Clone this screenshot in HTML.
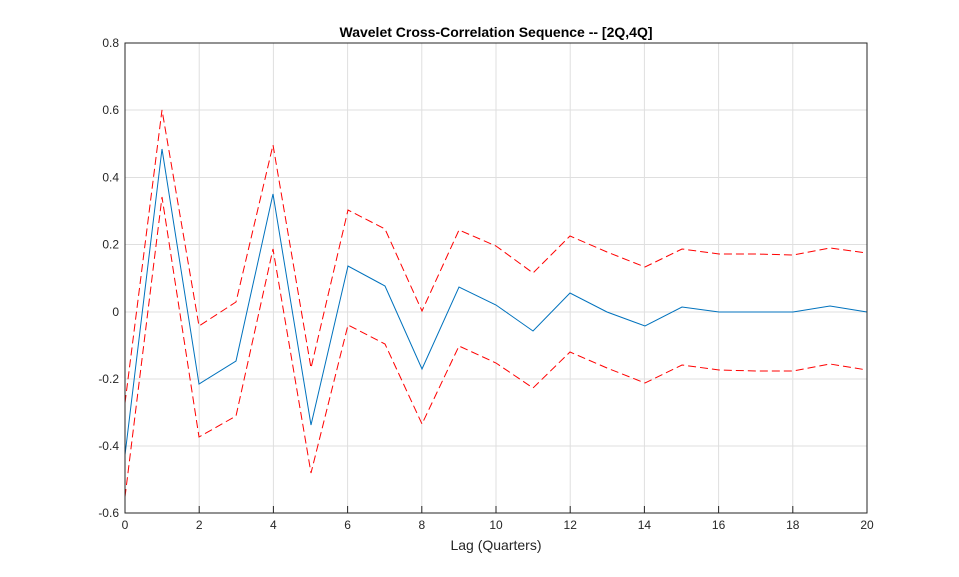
<!DOCTYPE html>
<html><head><style>body{margin:0;background:#fff}svg{display:block}text{font-family:"Liberation Sans",Arial,sans-serif}</style></head><body>
<svg width="959" height="577" xmlns="http://www.w3.org/2000/svg">
<rect width="959" height="577" fill="#fff"/>
<g stroke="#dfdfdf" stroke-width="1">
<line x1="199.2" y1="43" x2="199.2" y2="513"/><line x1="273.4" y1="43" x2="273.4" y2="513"/><line x1="347.6" y1="43" x2="347.6" y2="513"/><line x1="421.8" y1="43" x2="421.8" y2="513"/><line x1="496" y1="43" x2="496" y2="513"/><line x1="570.2" y1="43" x2="570.2" y2="513"/><line x1="644.4" y1="43" x2="644.4" y2="513"/><line x1="718.6" y1="43" x2="718.6" y2="513"/><line x1="792.8" y1="43" x2="792.8" y2="513"/>
<line x1="125" y1="110" x2="867" y2="110"/><line x1="125" y1="177.5" x2="867" y2="177.5"/><line x1="125" y1="244.5" x2="867" y2="244.5"/><line x1="125" y1="312" x2="867" y2="312"/><line x1="125" y1="379" x2="867" y2="379"/><line x1="125" y1="446" x2="867" y2="446"/>
</g>
<polyline fill="none" stroke="#0072bd" stroke-width="1" points="125,455 162,149 199,384 236,361 273,194 311,425 348,266 385,286 422,369 459,287 496,305 533,331 570,293 607,312 645,326 682,307 719,312 756,312 793,312 830,306 867,312"/>
<g fill="none" stroke="#ff0000" stroke-width="1" stroke-dasharray="8,4">
<polyline points="125,403 162,110 199,326 236,302 273,145 311,368 348,210 385,229 422,311 459,230 496,246 533,273 570,236 607,252 645,267 682,249 719,254 756,254 793,255 830,248 867,253"/>
<polyline points="125,497 162,197 199,437 236,416 273,249 311,473 348,325 385,344 422,424 459,346 496,363 533,388 570,352 607,368 645,383 682,365 719,370 756,371 793,371 830,364 867,370"/>
</g>
<rect x="125" y="43" width="742" height="470" fill="none" stroke="#262626" stroke-width="1"/>
<g stroke="#262626"><line x1="199.2" y1="513" x2="199.2" y2="506"/><line x1="273.4" y1="513" x2="273.4" y2="506"/><line x1="347.6" y1="513" x2="347.6" y2="506"/><line x1="421.8" y1="513" x2="421.8" y2="506"/><line x1="496" y1="513" x2="496" y2="506"/><line x1="570.2" y1="513" x2="570.2" y2="506"/><line x1="644.4" y1="513" x2="644.4" y2="506"/><line x1="718.6" y1="513" x2="718.6" y2="506"/><line x1="792.8" y1="513" x2="792.8" y2="506"/></g>
<g font-size="12" fill="#262626" text-anchor="middle">
<text x="125" y="529">0</text><text x="199.2" y="529">2</text><text x="273.4" y="529">4</text><text x="347.6" y="529">6</text><text x="421.8" y="529">8</text><text x="496" y="529">10</text><text x="570.2" y="529">12</text><text x="644.4" y="529">14</text><text x="718.6" y="529">16</text><text x="792.8" y="529">18</text><text x="867" y="529">20</text>
</g>
<g font-size="12" fill="#262626" text-anchor="end">
<text x="119" y="47">0.8</text><text x="119" y="114">0.6</text><text x="119" y="181.5">0.4</text><text x="119" y="248.5">0.2</text><text x="119" y="316">0</text><text x="119" y="383">-0.2</text><text x="119" y="450">-0.4</text><text x="119" y="517">-0.6</text>
</g>
<text x="496" y="550" font-size="14" fill="#262626" text-anchor="middle">Lag (Quarters)</text>
<text x="496" y="37" font-size="14" font-weight="bold" fill="#000" text-anchor="middle">Wavelet Cross-Correlation Sequence -- [2Q,4Q]</text>
</svg>
</body></html>
